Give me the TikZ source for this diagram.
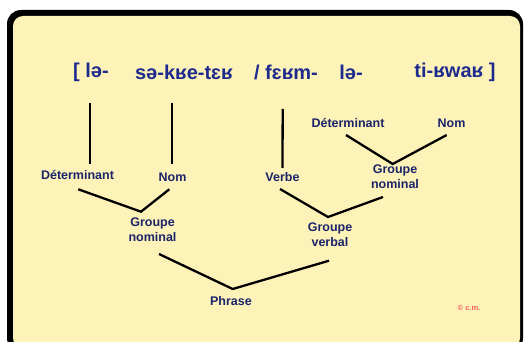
\documentclass[tikz,border=0pt]{standalone}
\usepackage{fontspec}
\setmainfont{Liberation Sans}
\usetikzlibrary{calc}
\definecolor{navy}{RGB}{27,36,105}
\definecolor{phonblue}{RGB}{30,42,140}
\definecolor{paper}{RGB}{253,243,185}
\definecolor{copyred}{RGB}{242,96,86}
\begin{document}
\begin{tikzpicture}[x=1pt,y=1pt,
  lbl/.style={text=navy, font=\bfseries\fontsize{12.5}{15}\selectfont, align=center, inner sep=0pt},
  phon/.style={text=phonblue, font=\bfseries\fontsize{20}{24}\selectfont, inner sep=0pt},
  branch/.style={line width=2.3pt}]
\useasboundingbox (0,0) rectangle (525,-342);
% card
\fill[black, rounded corners=14pt] (7,-10) rectangle (523,-352);
\fill[paper, rounded corners=10pt] (13,-16) rectangle (520,-348);

% transcription
\node[phon] (w1) at (91,-72) {[ lə-};
\node[phon] (w2) at (184,-72) {sə-kʁe-tɛʁ};
\node[phon] (w3) at (286,-72) {/ fɛʁm-};
\node[phon] (w4) at (351,-72) {lə-};
\node[phon] (w5) at (455,-72) {ti-ʁwaʁ ]};

% categories
\node[lbl] (det1) at (77.5,-175) {Déterminant};
\node[lbl] (nom1) at (172.5,-177) {Nom};
\node[lbl] (verbe) at (282.5,-177) {Verbe};
\node[lbl] (det2) at (348,-123) {Déterminant};
\node[lbl] (nom2) at (451.5,-123) {Nom};
\node[lbl] (gn2) at (395,-176.3) {Groupe\\nominal};
\node[lbl] (gn1) at (152.5,-229.7) {Groupe\\nominal};
\node[lbl] (gv) at (330,-235) {Groupe\\verbal};
\node[lbl] (phrase) at (231,-301) {Phrase};
\node[text=copyred, font=\bfseries\fontsize{7.5}{9}\selectfont, inner sep=0pt] (cm) at (469,-308) {© c.m.};

% branches
\draw[branch] ($(w1)+(-1,-31)$) -- ($(det1)+(12.5,11)$);
\draw[branch] ($(w2)+(-12,-31)$) -- ($(nom1)+(-0.5,13)$);
\draw[branch] ($(w3)+(-3.3,-37)$) -- ($(verbe)+(0,9)$);
\draw[branch] ($(det1)+(0.8,-14.3)$) -- ($(gn1)+(-11.5,18)$) -- ($(nom1)+(-3.2,-12.3)$);
\draw[branch] ($(det2)+(-2,-12)$) -- ($(gn2)+(-2.3,12.3)$) -- ($(nom2)+(-4.8,-12)$);
\draw[branch] ($(verbe)+(-2.5,-12)$) -- ($(gv)+(-2,18)$) -- ($(gn2)+(-12,-20.7)$);
\draw[branch] ($(gn1)+(6.5,-24.3)$) -- ($(phrase)+(1.7,12)$) -- ($(gv)+(-1,-25.7)$);
\end{tikzpicture}
\end{document}
